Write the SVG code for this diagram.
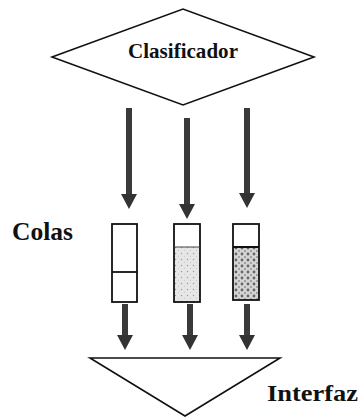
<svg xmlns="http://www.w3.org/2000/svg" width="360" height="417" viewBox="0 0 360 417">
<style>
.shape{fill:#fff;stroke:#111;stroke-width:1.6}
.lbl{font-family:"Liberation Serif","DejaVu Serif","Times New Roman",serif;font-weight:bold;fill:#111}
.arr{stroke:#3a3a3a;stroke-width:6;fill:none}
.head{fill:#333}
.box{stroke:#111;stroke-width:1.8}
</style>
<defs>
<pattern id="light" width="6" height="6" patternUnits="userSpaceOnUse">
<rect width="6" height="6" fill="#e6e6e6"/>
<circle cx="1.5" cy="1.5" r="0.7" fill="#999"/>
<circle cx="4.5" cy="4.2" r="0.5" fill="#bbb"/>
</pattern>
<pattern id="dark" width="6" height="6" patternUnits="userSpaceOnUse">
<rect width="6" height="6" fill="#d4d4d4"/>
<circle cx="2" cy="2" r="1.4" fill="#666"/>
<circle cx="5" cy="5" r="0.9" fill="#888"/>
</pattern>
</defs>
<g id="clasificador">
<polygon class="shape" points="52,57 183,9 314,57 183,105"/>
<text class="lbl" x="128" y="58" font-size="22" textLength="110" lengthAdjust="spacingAndGlyphs">Clasificador</text>
</g>
<g id="colas-label">
<text class="lbl" x="12" y="240" font-size="26" textLength="61" lengthAdjust="spacingAndGlyphs">Colas</text>
</g>
<g id="cola1">
<rect class="box" x="112" y="224" width="25" height="78" fill="#fff"/>
<line class="box" x1="112" y1="272" x2="137" y2="272"/>
</g>
<g id="cola2">
<rect x="174" y="247" width="26" height="55" fill="url(#light)"/>
<rect class="box" x="174" y="224" width="26" height="78" fill="none"/>
<line x1="174" y1="247" x2="200" y2="247" stroke="#444" stroke-width="1"/>
</g>
<g id="cola3">
<rect x="233" y="247" width="26" height="53" fill="url(#dark)"/>
<rect class="box" x="233" y="224" width="26" height="76" fill="none"/>
<line x1="233" y1="247" x2="259" y2="247" stroke="#111" stroke-width="2"/>
</g>
<g id="interfaz">
<polygon class="shape" points="90,358 280,358 185,416"/>
<text class="lbl" x="267" y="401" font-size="24" textLength="91" lengthAdjust="spacingAndGlyphs">Interfaz</text>
</g>
<g id="connectors">
<line class="arr" x1="129" y1="108" x2="129" y2="196"/>
<polygon class="head" points="121,194 137,194 129,209"/>
<line class="arr" x1="187" y1="118" x2="187" y2="206"/>
<polygon class="head" points="179,204 195,204 187,219"/>
<line class="arr" x1="247" y1="108" x2="247" y2="195"/>
<polygon class="head" points="239,193 255,193 247,208"/>
<line class="arr" x1="125" y1="304" x2="125" y2="337"/>
<polygon class="head" points="117,335 133,335 125,350"/>
<line class="arr" x1="190" y1="304" x2="190" y2="337"/>
<polygon class="head" points="182,335 198,335 190,350"/>
<line class="arr" x1="247" y1="304" x2="247" y2="337"/>
<polygon class="head" points="239,335 255,335 247,350"/>
</g>
</svg>
